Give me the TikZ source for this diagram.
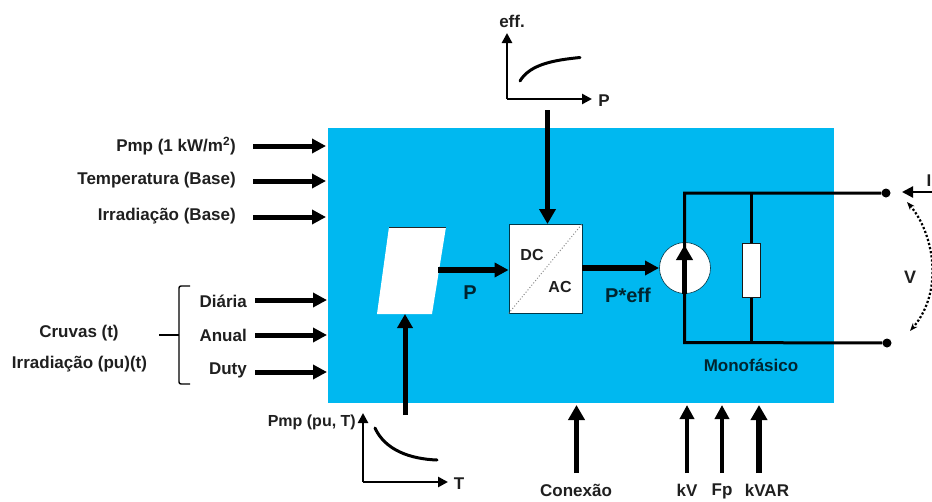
\documentclass[tikz,border=0pt]{standalone}
\usepackage{fontspec}
\setmainfont{Liberation Sans}
\usetikzlibrary{arrows.meta,calc}
\definecolor{panel}{RGB}{0,184,240}
\tikzset{
 x=1pt,y=-1pt,
 lab/.style={inner sep=0pt,font=\fontsize{17}{19}\selectfont\bfseries,text=black!88},
 inlab/.style={lab,text=black!80!panel},
 big/.style={line width=5pt,-{Triangle[length=14pt,width=14pt]}},
 heavy/.style={line width=5.8pt,-{Triangle[length=15pt,width=16pt]}},
 mid/.style={line width=4pt,-{Triangle[length=14pt,width=14pt]}},
 axis/.style={line width=2.8pt,-{Triangle[length=10pt,width=10pt]}},
 wire/.style={line width=3pt},
 curve/.style={line width=3pt,line cap=round},
 whitebox/.style={fill=white,draw=black!70!panel,line width=.8pt},
 term/.style={circle,fill=black,inner sep=0pt,minimum size=9pt},
 volt/.style={line width=2.2pt,dotted,{Stealth[length=8pt]}-{Stealth[length=8pt]}},
 brace/.style={line width=1.4pt,rounded corners=2pt},
}
\begin{document}
\begin{tikzpicture}
\useasboundingbox (0,0) rectangle (932,501);
\clip (0,0) rectangle (932,501);
\fill[panel] (328,127.5) rectangle (834,403);
% left inputs
\node[lab,anchor=east] (pmp) at (236,146) {Pmp (1 kW/m\textsuperscript{2})};
\node[lab,anchor=east] (temp) at (236,180) {Temperatura (Base)};
\node[lab,anchor=east] (irr) at (236,216) {Irradiação (Base)};
\node[lab,anchor=east] (dia) at (247,301) {Diária};
\node[lab,anchor=east] (anu) at (247,335) {Anual};
\node[lab,anchor=east] (dut) at (247,370) {Duty};
\node[lab] (cur) at (79,333) {Cruvas (t)};
\node[lab] (ipu) at (79.5,364) {Irradiação (pu)(t)};
\coordinate (p1) at (326,146); \coordinate (p2) at (326,181); \coordinate (p3) at (326,217);
\coordinate (p4) at (327,300); \coordinate (p5) at (327,335); \coordinate (p6) at (327,372);
\draw[big] (253,146) -- (p1);
\draw[big] (253,181) -- (p2);
\draw[big] (253,217) -- (p3);
\draw[big] (255,300) -- (p4);
\draw[big] (255,335) -- (p5);
\draw[big] (255,372) -- (p6);
% bracket
\coordinate (br1) at (190,286); \coordinate (br2) at (179,286); \coordinate (br3) at (179,384); \coordinate (br4) at (190,384);
\coordinate (brm) at (179,335); \coordinate (brl) at (159,335);
\draw[brace] (br1) -- (br2) -- (br3) -- (br4);
\draw[line width=1.4pt] (brl) -- (brm);
% parallelogram
\coordinate (a) at (389,227); \coordinate (b) at (446,227); \coordinate (c) at (432,314); \coordinate (d) at (377,314);
\path[fill=white] (a) -- (b) -- (c) -- (d) -- cycle;
\draw[line width=.9pt,black!85] (a) -- (b);
% DC/AC
\node[whitebox,minimum width=73pt,minimum height=89pt,inner sep=0pt] (conv) at (545.5,268.5) {};
\draw[black!45,line width=1pt,dotted] (conv.south west) -- (conv.north east);
\node[lab,font=\fontsize{16}{18}\selectfont\bfseries] (dc) at (532,255) {DC};
\node[lab,font=\fontsize{16}{18}\selectfont\bfseries] (ac) at (560,287) {AC};
\node[inlab,font=\fontsize{20}{22}\selectfont\bfseries] (plab) at (470,293) {P};
\node[inlab,font=\fontsize{20}{22}\selectfont\bfseries] (pefflab) at (628,295) {P*eff};
\coordinate (pout) at (438,270);
\draw[big,line width=5.4pt] (pout) -- (conv.west |- pout);
\coordinate (cout) at (582,268);
\coordinate (srcL) at (659,268);
\draw[big,line width=5.4pt] (cout) -- (srcL);
% source
\node[circle,fill=white,draw=black!70!panel,line width=.6pt,minimum size=51pt,inner sep=0pt] (src) at (685,268) {};
% circuit
\node[term] (t1) at (886,193) {};
\node[term] (t2) at (887,343) {};
\node[whitebox,draw=black!90,line width=1pt,minimum width=18pt,minimum height=54pt,inner sep=0pt] (res) at (751.5,270) {};
\coordinate (tl) at (684.5,193); \coordinate (bl) at (684.5,342.5);
\draw[wire] (t1) -- (tl) -- (bl) -- (t2);
\draw[line width=3.4pt] (res.north) -- (res.north |- tl);
\draw[line width=3.4pt] (res.south) -- (res.south |- bl);
\coordinate (srcB) at (684.5,294);
\coordinate (srcT) at (684.5,245);
\draw[line width=5pt,-{Triangle[length=15pt,width=16pt]}] (srcB) -- (srcT);
\node[inlab] (mono) at (751,365) {Monofásico};
% terminal current
\coordinate (iend) at (934,192);
\coordinate (itip) at (902,192);
\draw[line width=2.2pt,-{Triangle[length=11pt,width=11pt]}] (iend) -- (itip);
\node[lab,anchor=east] (ilab) at (931.5,181) {I};
% voltage
\node[lab,font=\fontsize{18}{20}\selectfont\bfseries] (v) at (910,277) {V};
\coordinate (vt) at (907,202); \coordinate (vb) at (910,331);
\draw[volt] (vt) .. controls (933,232) and (945,290) .. (vb);
% top graph
\coordinate (o1) at (507,99); \coordinate (y1) at (507,33); \coordinate (x1) at (592,99);
\draw[axis] (o1) -- (y1);
\draw[axis] (o1) -- (x1);
\node[lab] (eff) at (512,21) {eff.};
\node[lab] (ptop) at (604,101) {P};
\coordinate (c1a) at (520,81); \coordinate (c1b) at (580,57.5);
\draw[curve] (c1a) .. controls (530,64) and (555,60) .. (c1b);
\draw[heavy] (547.5,110) -- (547.5,224);
% bottom graph
\coordinate (o2) at (363,482); \coordinate (y2) at (363,413); \coordinate (x2) at (448,482);
\draw[axis] (o2) -- (y2);
\draw[axis] (o2) -- (x2);
\node[lab,anchor=east,font=\fontsize{16}{18}\selectfont\bfseries] (pmppu) at (356,422) {Pmp (pu, T)};
\node[lab] (tlab) at (459,484) {T};
\coordinate (c2a) at (375,428); \coordinate (c2b) at (437,460);
\draw[curve] (c2a) .. controls (385,450) and (410,459) .. (c2b);
\draw[line width=5pt,-{Triangle[length=14pt,width=15pt]}] (405,415) -- (405,314);
% bottom inputs
\node[lab] (con) at (576,490) {Conexão};
\node[lab] (kv) at (687,490) {kV};
\node[lab] (fp) at (722,491) {Fp};
\node[lab] (kvar) at (767,490) {kVAR};
\draw[heavy] (576.5,473) -- (576.5,405);
\draw[mid] (687,473) -- (687,405);
\draw[mid] (722,473) -- (722,405);
\draw[heavy] (759,473) -- (759,405);
\end{tikzpicture}
\end{document}
